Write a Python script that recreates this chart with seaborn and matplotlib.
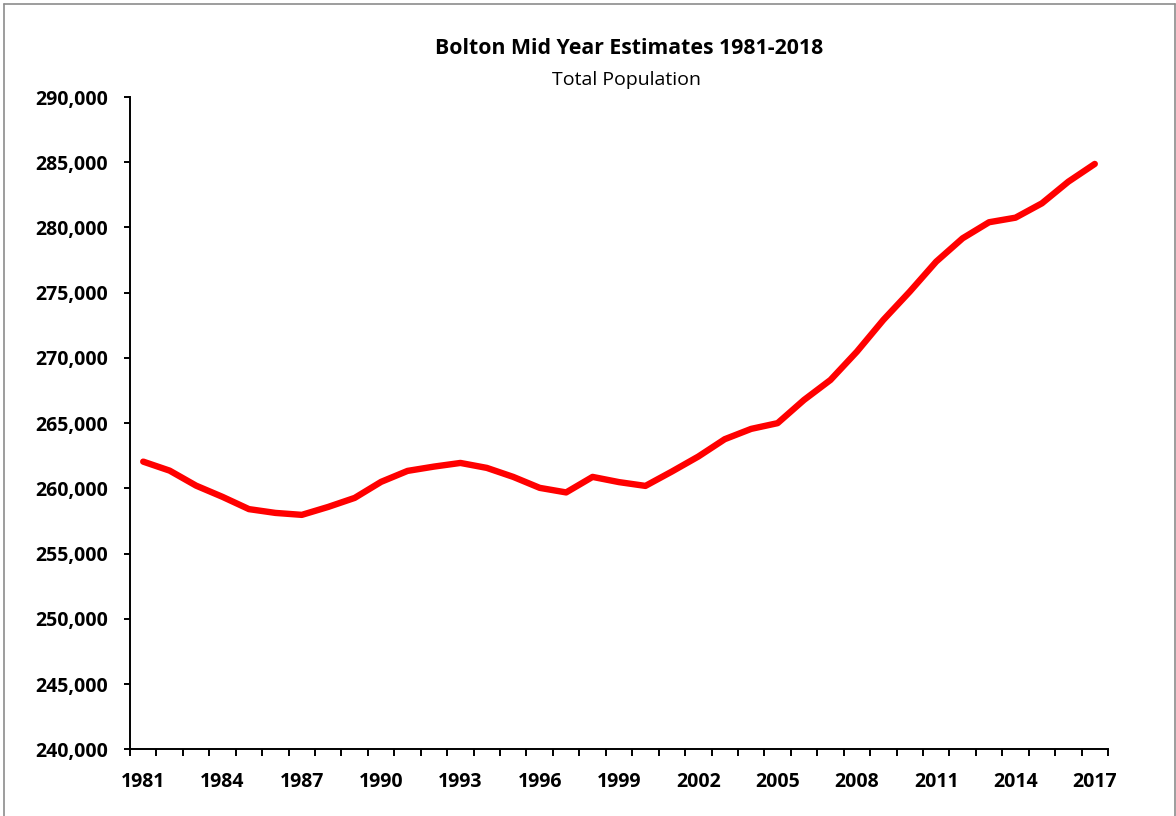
import matplotlib
matplotlib.use("Agg")
import matplotlib.pyplot as plt
import matplotlib.ticker as mticker
from matplotlib.lines import Line2D
import seaborn as sns
import pandas as pd

years = list(range(1981, 2018))
population = [262050, 261360, 260210, 259350, 258410, 258120, 257970, 258580,
              259270, 260500, 261340, 261670, 261950, 261570, 260880, 260040,
              259690, 260880, 260480, 260190, 261290, 262440, 263770, 264560,
              265000, 266780, 268310, 270480, 272910, 275080, 277380, 279170,
              280400, 280750, 281850, 283510, 284870]
y_ticks = list(range(240000, 290001, 5000))
x_label_years = list(range(1981, 2018, 3))
title = "Bolton Mid Year Estimates 1981-2018"
subtitle = "Total Population"

df = pd.DataFrame({"Year": years, "Population": population})

sns.set_theme(style="white")
plt.rcParams["font.family"] = ["Open Sans", "DejaVu Sans"]

fig = plt.figure(figsize=(11.76, 8.16), dpi=100)
ax = fig.add_axes([130 / 1176, 1 - 749.3 / 816, (1108 - 130) / 1176, (749.3 - 97) / 816])

sns.lineplot(data=df, x="Year", y="Population", ax=ax, color="#FF0000",
             linewidth=4.6, solid_capstyle="round", solid_joinstyle="round")

ax.set_xlim(years[0] - 0.5, years[-1] + 0.5)
ax.set_ylim(y_ticks[0], y_ticks[-1])
ax.set_yticks(y_ticks)
ax.yaxis.set_major_formatter(mticker.FuncFormatter(lambda v, p: f"{int(v):,}"))
ax.set_xticks(x_label_years)
ax.set_xticklabels([str(y) for y in x_label_years])
ax.set_xticks([y - 0.5 for y in years] + [years[-1] + 0.5], minor=True)

ax.set_xlabel("")
ax.set_ylabel("")
for s in ["top", "right"]:
    ax.spines[s].set_visible(False)
for s in ["left", "bottom"]:
    ax.spines[s].set_color("black")
    ax.spines[s].set_linewidth(1.4)

ax.tick_params(axis="y", which="major", direction="out", length=4, width=1.4,
               color="black", left=True, pad=12, labelsize=14)
ax.tick_params(axis="x", which="major", length=0, pad=16, labelsize=14, bottom=True)
ax.tick_params(axis="x", which="minor", direction="out", length=5, width=1.4,
               color="black", bottom=True)
for lbl in ax.get_xticklabels() + ax.get_yticklabels():
    lbl.set_fontweight("bold")
    lbl.set_color("black")
ax.grid(False)

fig.text(629 / 1176, 1 - 48 / 816, title, ha="center", va="center",
         fontsize=15.3, fontweight="bold", color="black")
fig.text(627 / 1176, 1 - 80 / 816, subtitle, ha="center", va="center",
         fontsize=14, color="black")

# outer chart-area frame
for xs, ys in [([4 / 1176, 1175 / 1176], [1 - 4 / 816, 1 - 4 / 816]),
               ([4 / 1176, 4 / 1176], [0, 1 - 4 / 816]),
               ([1175 / 1176, 1175 / 1176], [0, 1 - 4 / 816])]:
    fig.add_artist(Line2D(xs, ys, transform=fig.transFigure, color="#8c8c8c", linewidth=1.2))

fig.savefig("out.png", dpi=100)
